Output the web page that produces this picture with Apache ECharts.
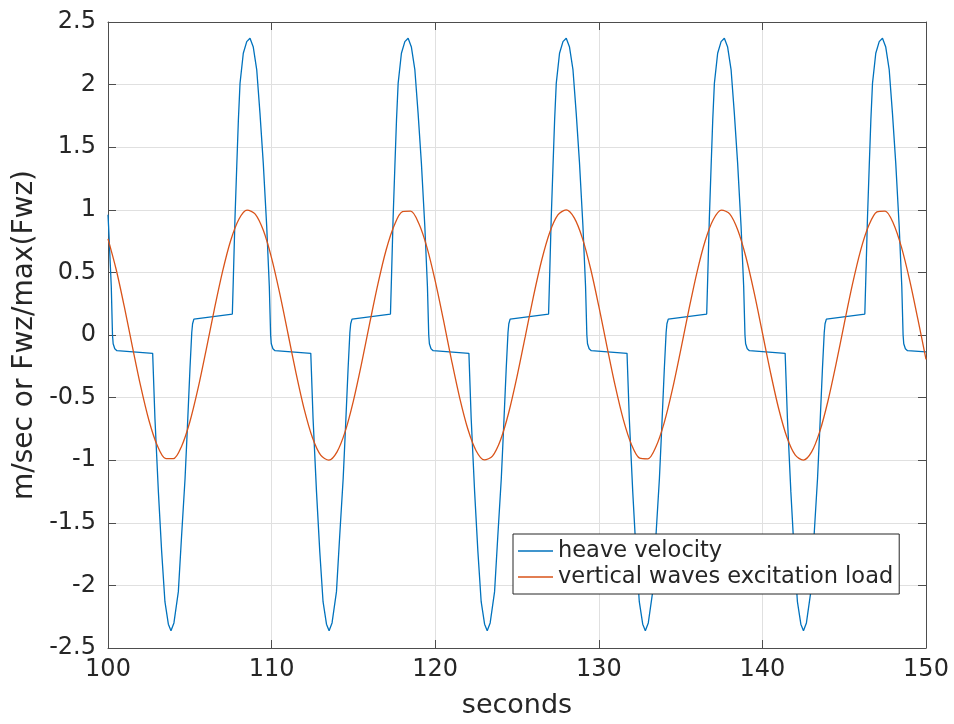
<!DOCTYPE html>
<html>
<head>
<meta charset="utf-8">
<script src="https://cdn.jsdelivr.net/npm/echarts@6/dist/echarts.min.js"></script>
<style>
html,body{margin:0;padding:0;background:#fff;}
#chart{width:954px;height:724px;}
</style>
</head>
<body>
<div id="chart"></div>
<script>
// heave velocity: [time (s), velocity (m/s)]
const heaveVelocity = [
[100.0,0.96],[100.035,0.87],[100.2,0.39],[100.275,0.0],[100.315,-0.07],[100.415,-0.11],[100.545,-0.125],
[102.73,-0.146],[102.87,-0.669],[103.08,-1.253],[103.28,-1.73],[103.48,-2.13],[103.69,-2.31],[103.85,-2.362],
[104.03,-2.30],[104.30,-2.05],[104.50,-1.60],[104.71,-1.146],[104.85,-0.748],[105.01,-0.27],[105.12,0.02],
[105.17,0.09],[105.25,0.127],[105.32,0.14],
[107.60,0.167],[107.66,0.446],[107.76,0.924],[107.87,1.348],[107.97,1.72],[108.07,2.01],[108.27,2.25],
[108.48,2.343],[108.68,2.37],[108.88,2.30],[109.09,2.12],[109.29,1.77],[109.49,1.375],[109.70,0.87],
[109.86,0.39],[109.94,0.0],[109.98,-0.07],[110.08,-0.11],[110.21,-0.125],
[112.395,-0.146],[112.535,-0.669],[112.745,-1.253],[112.945,-1.73],[113.145,-2.13],[113.355,-2.31],[113.515,-2.362],
[113.695,-2.30],[113.965,-2.05],[114.165,-1.60],[114.375,-1.146],[114.515,-0.748],[114.675,-0.27],[114.785,0.02],
[114.835,0.09],[114.915,0.127],[114.985,0.14],
[117.265,0.167],[117.325,0.446],[117.425,0.924],[117.535,1.348],[117.635,1.72],[117.735,2.01],[117.935,2.25],
[118.145,2.343],[118.345,2.37],[118.545,2.30],[118.755,2.12],[118.955,1.77],[119.155,1.375],[119.365,0.87],
[119.525,0.39],[119.605,0.0],[119.645,-0.07],[119.745,-0.11],[119.875,-0.125],
[122.06,-0.146],[122.20,-0.669],[122.41,-1.253],[122.61,-1.73],[122.81,-2.13],[123.02,-2.31],[123.18,-2.362],
[123.36,-2.30],[123.63,-2.05],[123.83,-1.60],[124.04,-1.146],[124.18,-0.748],[124.34,-0.27],[124.45,0.02],
[124.50,0.09],[124.58,0.127],[124.65,0.14],
[126.93,0.167],[126.99,0.446],[127.09,0.924],[127.20,1.348],[127.30,1.72],[127.40,2.01],[127.60,2.25],
[127.81,2.343],[128.01,2.37],[128.21,2.30],[128.42,2.12],[128.62,1.77],[128.82,1.375],[129.03,0.87],
[129.19,0.39],[129.27,0.0],[129.31,-0.07],[129.41,-0.11],[129.54,-0.125],
[131.725,-0.146],[131.865,-0.669],[132.075,-1.253],[132.275,-1.73],[132.475,-2.13],[132.685,-2.31],[132.845,-2.362],
[133.025,-2.30],[133.295,-2.05],[133.495,-1.60],[133.705,-1.146],[133.845,-0.748],[134.005,-0.27],[134.115,0.02],
[134.165,0.09],[134.245,0.127],[134.315,0.14],
[136.595,0.167],[136.655,0.446],[136.755,0.924],[136.865,1.348],[136.965,1.72],[137.065,2.01],[137.265,2.25],
[137.475,2.343],[137.675,2.37],[137.875,2.30],[138.085,2.12],[138.285,1.77],[138.485,1.375],[138.695,0.87],
[138.855,0.39],[138.935,0.0],[138.975,-0.07],[139.075,-0.11],[139.205,-0.125],
[141.39,-0.146],[141.53,-0.669],[141.74,-1.253],[141.94,-1.73],[142.14,-2.13],[142.35,-2.31],[142.51,-2.362],
[142.69,-2.30],[142.96,-2.05],[143.16,-1.60],[143.37,-1.146],[143.51,-0.748],[143.67,-0.27],[143.78,0.02],
[143.83,0.09],[143.91,0.127],[143.98,0.14],
[146.26,0.167],[146.32,0.446],[146.42,0.924],[146.53,1.348],[146.63,1.72],[146.73,2.01],[146.93,2.25],
[147.14,2.343],[147.34,2.37],[147.54,2.30],[147.75,2.12],[147.95,1.77],[148.15,1.375],[148.36,0.87],
[148.52,0.39],[148.60,0.0],[148.64,-0.07],[148.74,-0.11],[148.87,-0.125],[150.0,-0.135]
];

// vertical waves excitation load (normalised), sampled every 0.5 s from t = 100 s
const loadStart = 100;
const loadStep = 0.5;
const excitationLoad = [
0.768,0.523,0.224,-0.099,-0.411,-0.681,-0.879,-0.985,-0.988,-0.888,
-0.695,-0.429,-0.118,0.205,0.506,0.755,0.925,0.998,0.966,0.834,
0.614,0.330,0.012,-0.308,-0.596,-0.821,-0.960,-0.999,-0.933,-0.770,
-0.526,-0.227,0.096,0.408,0.679,0.877,0.985,0.989,0.890,0.698,
0.432,0.122,-0.202,-0.504,-0.753,-0.924,-0.998,-0.967,-0.836,-0.617,
-0.333,-0.015,0.305,0.593,0.819,0.959,0.999,0.935,0.772,0.529,
0.230,-0.092,-0.405,-0.676,-0.876,-0.984,-0.989,-0.891,-0.700,-0.435,
-0.125,0.198,0.501,0.751,0.922,0.997,0.968,0.837,0.619,0.336,
0.018,-0.302,-0.591,-0.817,-0.958,-0.999,-0.936,-0.774,-0.531,-0.233,
0.089,0.402,0.674,0.874,0.983,0.990,0.893,0.702,0.438,0.128,
-0.195
];

const seriesNames = ['heave velocity', 'vertical waves excitation load'];
const xTitle = 'seconds';
const yTitle = 'm/sec or Fwz/max(Fwz)';

const loadData = excitationLoad.map((v, i) => [loadStart + i * loadStep, v]);

const FONT = 'DejaVu Sans';
const TXT = '#262626';
const BOX = '#4d4d4d';
const GRID = '#e0e0e0';

const chart = echarts.init(document.getElementById('chart'), null, {renderer: 'canvas'});
const baseX = {
  type: 'value', min: 100, max: 150, interval: 10,
  axisLine: {show: true, onZero: false, lineStyle: {color: BOX, width: 1}},
  axisTick: {show: true, inside: true, length: 8, lineStyle: {color: BOX, width: 1}}
};
const baseY = {
  type: 'value', min: -2.5, max: 2.5, interval: 0.5,
  axisLine: {show: true, onZero: false, lineStyle: {color: BOX, width: 1}},
  axisTick: {show: true, inside: true, length: 8, lineStyle: {color: BOX, width: 1}}
};
chart.setOption({
  animation: false,
  backgroundColor: '#ffffff',
  grid: {left: 108, right: 28, top: 22, bottom: 74, containLabel: false},
  xAxis: [
    Object.assign({}, baseX, {
      position: 'bottom',
      name: xTitle, nameLocation: 'middle', nameGap: 44,
      nameTextStyle: {fontFamily: FONT, fontSize: 27, color: TXT},
      axisLabel: {fontFamily: FONT, fontSize: 24, color: TXT, margin: 10},
      splitLine: {show: true, lineStyle: {color: GRID, width: 1}}
    }),
    Object.assign({}, baseX, {
      position: 'top',
      axisLabel: {show: false},
      splitLine: {show: false}
    })
  ],
  yAxis: [
    Object.assign({}, baseY, {
      position: 'left',
      name: yTitle, nameLocation: 'middle', nameGap: 64, nameRotate: 90,
      nameTextStyle: {fontFamily: FONT, fontSize: 28, color: TXT},
      axisLabel: {fontFamily: FONT, fontSize: 24, color: TXT, margin: 12},
      splitLine: {show: true, lineStyle: {color: GRID, width: 1}}
    }),
    Object.assign({}, baseY, {
      position: 'right',
      axisLabel: {show: false},
      splitLine: {show: false}
    })
  ],
  legend: {
    left: 513, top: 534,
    orient: 'vertical',
    backgroundColor: '#ffffff',
    borderColor: '#262626', borderWidth: 1, borderRadius: 0,
    padding: [5, 6, 5, 5],
    itemGap: 2,
    itemWidth: 35, itemHeight: 1.5,
    icon: 'rect',
    data: seriesNames,
    textStyle: {fontFamily: FONT, fontSize: 22.5, color: TXT, lineHeight: 24}
  },
  series: [
    {
      name: seriesNames[0], type: 'line', data: heaveVelocity,
      xAxisIndex: 0, yAxisIndex: 0,
      showSymbol: false, symbol: 'none',
      lineStyle: {color: '#0072BD', width: 1.3},
      itemStyle: {color: '#0072BD'},
      z: 3
    },
    {
      name: seriesNames[1], type: 'line', data: loadData,
      xAxisIndex: 0, yAxisIndex: 0,
      showSymbol: false, symbol: 'none', smooth: 0.3,
      lineStyle: {color: '#D95319', width: 1.3},
      itemStyle: {color: '#D95319'},
      z: 4
    }
  ]
});
</script>
</body>
</html>
